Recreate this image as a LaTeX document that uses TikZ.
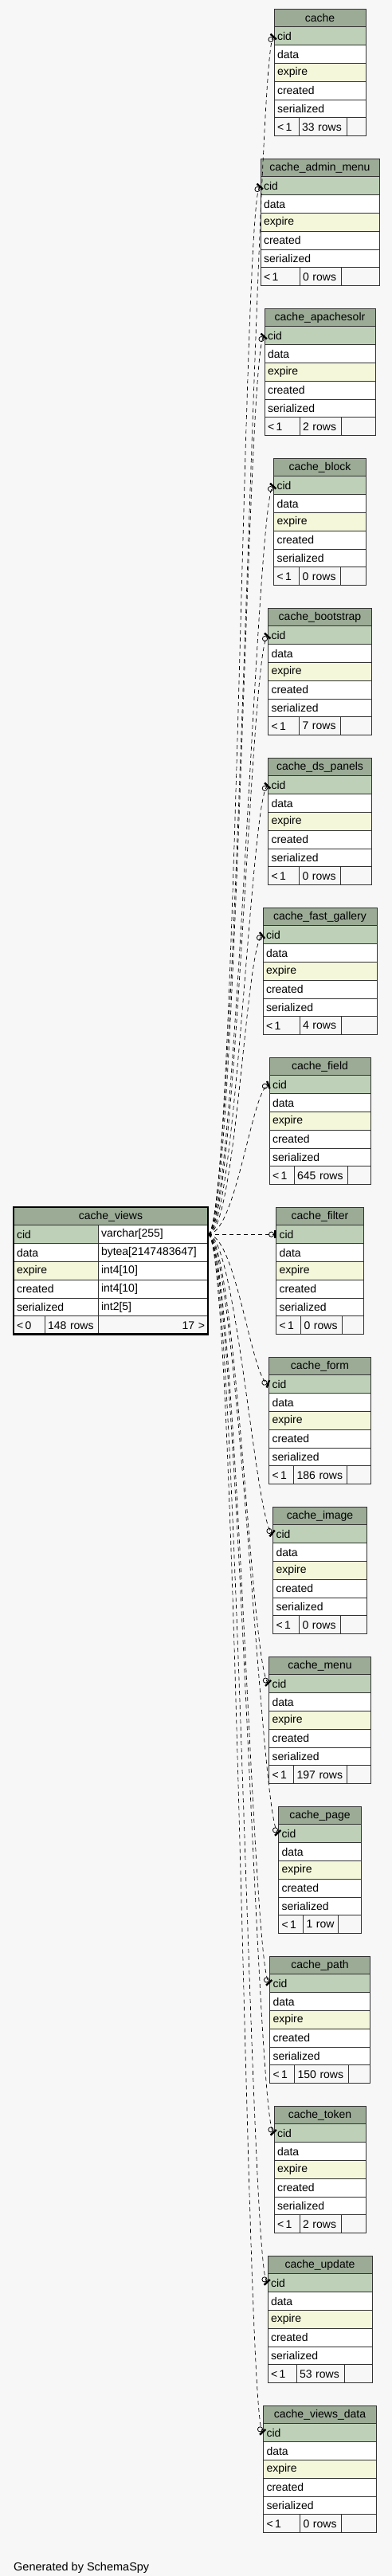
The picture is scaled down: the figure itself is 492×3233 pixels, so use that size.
\documentclass[tikz,border=0pt]{standalone}
\usepackage{fontspec}
\setmainfont{Liberation Sans}
\usetikzlibrary{positioning,arrows.meta}

\definecolor{hdrgreen}{HTML}{9BAB96}
\definecolor{pkgreen}{HTML}{BED1B8}
\definecolor{idxyellow}{HTML}{F4F7DA}
\definecolor{bggray}{HTML}{F7F7F7}

\tikzset{
  cell/.style={draw=black!80, line width=0.8pt, outer sep=0pt, inner xsep=4pt, inner ysep=0pt,
    minimum height=22.8pt, anchor=north, align=left, font=\fontsize{14pt}{16pt}\selectfont},
  hdr/.style={cell, fill=hdrgreen, align=center},
  pk/.style={cell, fill=pkgreen},
  idx/.style={cell, fill=idxyellow},
  plain/.style={cell, fill=white},
  foot/.style={cell, fill=bggray},
  fk/.style={line width=0.7pt, dash pattern=on 5pt off 4pt,
    -{Circle[open,length=7pt,width=7pt,line width=0.8pt]Bar[width=10pt,line width=2.4pt]}}
}

% one cache table: name, title, top, width, first and second footer cell, row count
\newcommand{\cachetab}[7]{%
  \pgfmathsetmacro{\cellw}{#4-8}%
  \pgfmathsetmacro{\foota}{#5-8}%
  \pgfmathsetmacro{\footb}{#6-8}%
  \pgfmathsetmacro{\footc}{#4-#5-#6-8}%
  \node[hdr, minimum width=#4pt] (#1) at (401.5,#3) {#2};
  \node[pk, text width=\cellw pt, below=0pt of #1] (#1-cid) {cid};
  \node[plain, text width=\cellw pt, below=0pt of #1-cid] (#1-data) {data};
  \node[idx, text width=\cellw pt, below=0pt of #1-data] (#1-exp) {expire};
  \node[plain, text width=\cellw pt, below=0pt of #1-exp] (#1-cre) {created};
  \node[plain, text width=\cellw pt, below=0pt of #1-cre] (#1-ser) {serialized};
  \node[foot, text width=\foota pt, below=0pt of #1-ser.south west, anchor=north west] (#1-f1) {<\,1};
  \node[foot, text width=\footb pt, right=0pt of #1-f1] (#1-f2) {#7};
  \node[foot, text width=\footc pt, right=0pt of #1-f2] (#1-f3) {};
}

\begin{document}
\begin{tikzpicture}[x=1pt, y=-1pt]
\fill[bggray] (0,0) rectangle (492,3233);
\useasboundingbox (0,0) rectangle (492,3233);

% the referencing table
\node[hdr, minimum width=244pt] (views) at (139,1515) {cache\_views};
\node[pk, text width=98pt, below=0pt of views.south west, anchor=north west] (views-cid) {cid};
\node[plain, text width=130pt, right=0pt of views-cid] (views-cidt) {varchar[255]};
\node[plain, text width=98pt, below=0pt of views-cid.south west, anchor=north west] (views-data) {data};
\node[plain, text width=130pt, right=0pt of views-data] (views-datat) {bytea[2147483647]};
\node[idx, text width=98pt, below=0pt of views-data.south west, anchor=north west] (views-exp) {expire};
\node[plain, text width=130pt, right=0pt of views-exp] (views-expt) {int4[10]};
\node[plain, text width=98pt, below=0pt of views-exp.south west, anchor=north west] (views-cre) {created};
\node[plain, text width=130pt, right=0pt of views-cre] (views-cret) {int4[10]};
\node[plain, text width=98pt, below=0pt of views-cre.south west, anchor=north west] (views-ser) {serialized};
\node[plain, text width=130pt, right=0pt of views-ser] (views-sert) {int2[5]};
\node[foot, text width=31pt, below=0pt of views-ser.south west, anchor=north west] (views-f1) {<\,0};
\node[foot, text width=59pt, right=0pt of views-f1] (views-f2) {148 rows};
\node[foot, text width=130pt, align=right, right=0pt of views-f2] (views-f3) {17 >};
\draw[line width=2.5pt, draw=black] (views.north west) rectangle (views-f3.south east);

% referenced tables
\cachetab{cache}{cache}{11}{115}{31}{60}{33 rows}
\cachetab{admin}{cache\_admin\_menu}{199}{149}{49}{52}{0 rows}
\cachetab{solr}{cache\_apachesolr}{387}{139}{44}{52}{2 rows}
\cachetab{block}{cache\_block}{575}{116}{32}{52}{0 rows}
\cachetab{boot}{cache\_bootstrap}{763}{130}{39}{52}{7 rows}
\cachetab{panels}{cache\_ds\_panels}{951}{130}{39}{52}{0 rows}
\cachetab{gallery}{cache\_fast\_gallery}{1139}{143}{46}{52}{4 rows}
\cachetab{field}{cache\_field}{1327}{127}{31}{67}{645 rows}
\cachetab{filter}{cache\_filter}{1515}{110}{31}{52}{0 rows}
\cachetab{form}{cache\_form}{1703}{128}{31}{67}{186 rows}
\cachetab{image}{cache\_image}{1891}{118}{33}{52}{0 rows}
\cachetab{menu}{cache\_menu}{2079}{128}{31}{67}{197 rows}
\cachetab{page}{cache\_page}{2267}{104}{31}{44}{1 row}
\cachetab{path}{cache\_path}{2455}{126}{31}{68}{150 rows}
\cachetab{token}{cache\_token}{2643}{115}{32}{52}{2 rows}
\cachetab{update}{cache\_update}{2831}{131}{36}{60}{53 rows}
\cachetab{vdata}{cache\_views\_data}{3019}{142}{46}{52}{0 rows}

% implied keys
\draw[fk] (views-cidt.east) .. controls +(35,0) and +(-22,24) .. (cache-cid.west);
\draw[fk] (views-cidt.east) .. controls +(35,0) and +(-22,24) .. (admin-cid.west);
\draw[fk] (views-cidt.east) .. controls +(35,0) and +(-22,24) .. (solr-cid.west);
\draw[fk] (views-cidt.east) .. controls +(35,0) and +(-22,24) .. (block-cid.west);
\draw[fk] (views-cidt.east) .. controls +(35,0) and +(-22,24) .. (boot-cid.west);
\draw[fk] (views-cidt.east) .. controls +(35,0) and +(-22,22) .. (panels-cid.west);
\draw[fk] (views-cidt.east) .. controls +(35,0) and +(-22,18) .. (gallery-cid.west);
\draw[fk] (views-cidt.east) .. controls +(35,0) and +(-22,8) .. (field-cid.west);
\draw[fk] (views-cidt.east) -- (filter-cid.west);
\draw[fk] (views-cidt.east) .. controls +(35,0) and +(-22,-8) .. (form-cid.west);
\draw[fk] (views-cidt.east) .. controls +(35,0) and +(-22,-18) .. (image-cid.west);
\draw[fk] (views-cidt.east) .. controls +(35,0) and +(-22,-22) .. (menu-cid.west);
\draw[fk] (views-cidt.east) .. controls +(35,0) and +(-22,-24) .. (page-cid.west);
\draw[fk] (views-cidt.east) .. controls +(35,0) and +(-22,-24) .. (path-cid.west);
\draw[fk] (views-cidt.east) .. controls +(35,0) and +(-22,-24) .. (token-cid.west);
\draw[fk] (views-cidt.east) .. controls +(35,0) and +(-22,-24) .. (update-cid.west);
\draw[fk] (views-cidt.east) .. controls +(35,0) and +(-22,-24) .. (vdata-cid.west);

\node[anchor=base west, inner sep=0pt, font=\fontsize{14.5pt}{16pt}\selectfont] (credit) at (17,3226) {Generated by SchemaSpy};
\end{tikzpicture}
\end{document}
